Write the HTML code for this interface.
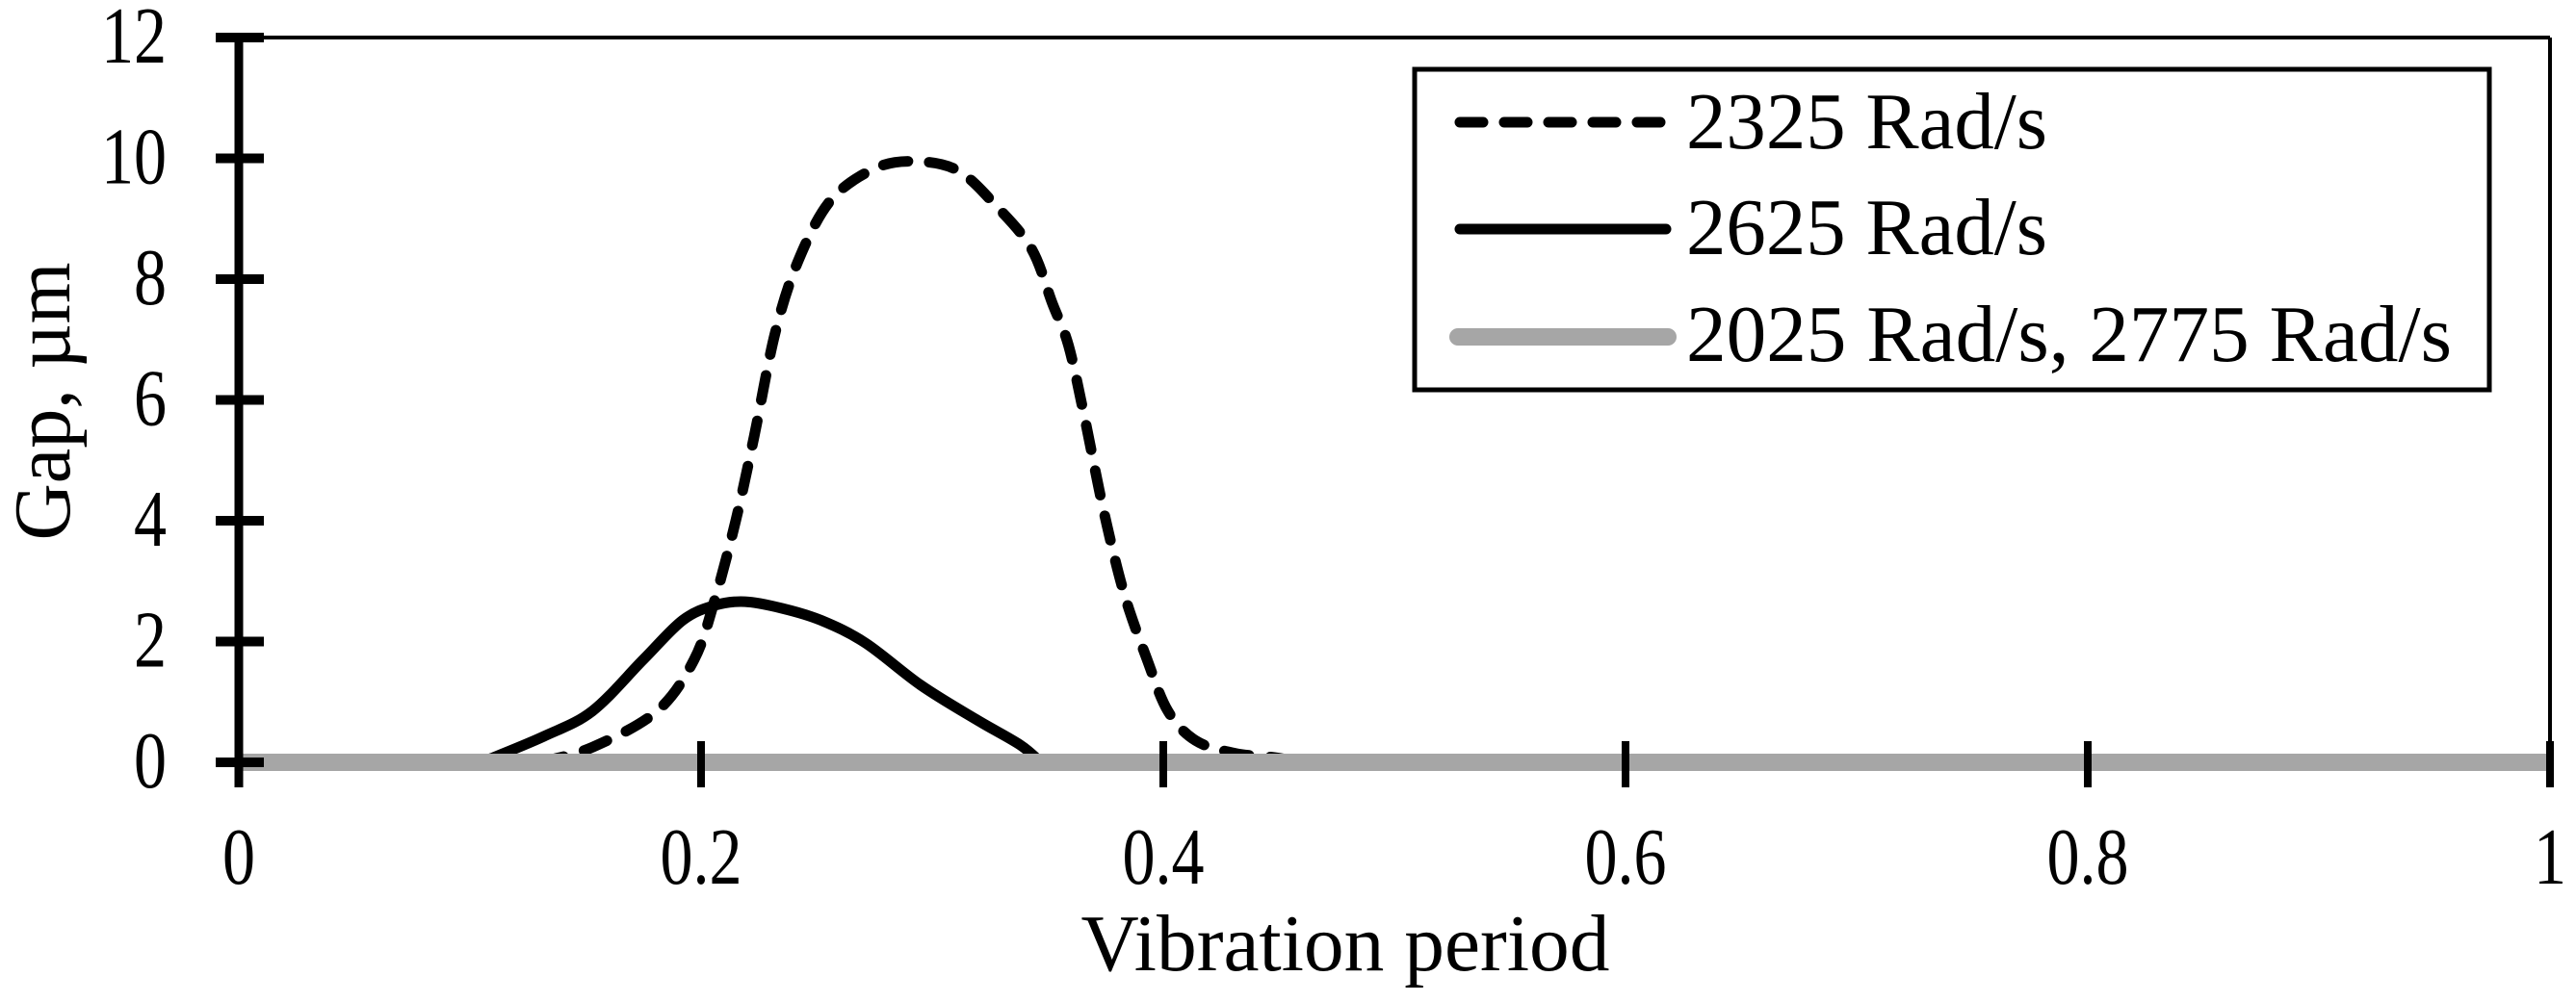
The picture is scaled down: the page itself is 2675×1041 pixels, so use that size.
<!DOCTYPE html>
<html><head><meta charset="utf-8"><style>
html,body{margin:0;padding:0;background:#fff;}
svg{display:block;}
text{font-family:"Liberation Serif",serif;fill:#000;}
</style></head><body>
<svg id="chart" width="2675" height="1041" viewBox="0 0 2675 1041" xmlns="http://www.w3.org/2000/svg">
<g id="frame"></g>
<g id="series"></g>
<g id="axes"></g>
<g id="legend">
  <rect x="1469" y="72" width="1116" height="333" fill="#fff" stroke="#000" stroke-width="5"/>
  <line x1="1516" y1="127" x2="1730" y2="127" stroke="#000" stroke-width="11" stroke-linecap="round" stroke-dasharray="24 22"/>
  <text x="1751" y="154" font-size="84" textLength="375" lengthAdjust="spacingAndGlyphs">2325 Rad/s</text>
  <line x1="1516" y1="238" x2="1730" y2="238" stroke="#000" stroke-width="11" stroke-linecap="round"/>
  <text x="1751" y="264" font-size="84" textLength="375" lengthAdjust="spacingAndGlyphs">2625 Rad/s</text>
  <line x1="1514" y1="350" x2="1732" y2="350" stroke="#a6a6a6" stroke-width="18" stroke-linecap="round"/>
  <text x="1751" y="375" font-size="84" textLength="795" lengthAdjust="spacingAndGlyphs">2025 Rad/s, 2775 Rad/s</text>
</g>
</svg>
<script>
const xTicks = [0, 0.2, 0.4, 0.6, 0.8, 1];
const xTickLabels = ["0", "0.2", "0.4", "0.6", "0.8", "1"];
const yTicks = [0, 2, 4, 6, 8, 10, 12];
const yTickLabels = ["0", "2", "4", "6", "8", "10", "12"];
const dashedX = [0.13, 0.153, 0.181, 0.197, 0.206, 0.215, 0.223, 0.232, 0.242, 0.256, 0.275, 0.292, 0.311, 0.328, 0.343, 0.352, 0.359, 0.366, 0.374, 0.383, 0.393, 0.402, 0.414, 0.431, 0.448, 0.46];
const dashedY = [0, 0.25, 0.85, 1.7, 2.7, 4.0, 5.4, 7.1, 8.3, 9.3, 9.83, 9.95, 9.8, 9.2, 8.5, 7.6, 6.9, 5.7, 4.2, 2.8, 1.7, 0.85, 0.36, 0.15, 0.08, 0];
const solidX = [0.105, 0.132, 0.153, 0.175, 0.192, 0.206, 0.219, 0.235, 0.252, 0.271, 0.295, 0.319, 0.338, 0.347];
const solidY = [0, 0.43, 0.85, 1.7, 2.35, 2.6, 2.66, 2.55, 2.35, 1.98, 1.28, 0.71, 0.29, 0];
const flatX = [0, 1];
const flatY = [0, 0];

const X0 = 248, X1 = 2648, Y0 = 792, Y1 = 39;
const sx = v => X0 + (v - 0) / (1 - 0) * (X1 - X0);
const sy = v => Y0 - (v - 0) / (12 - 0) * (Y0 - Y1);
const NS = "http://www.w3.org/2000/svg";
function mk(tag, attrs, parent) {
  const e = document.createElementNS(NS, tag);
  for (const k in attrs) e.setAttribute(k, attrs[k]);
  parent.appendChild(e);
  return e;
}
const frame = document.getElementById('frame');
const series = document.getElementById('series');
const axes = document.getElementById('axes');

let t = mk('line', {x1: X0, y1: sy(12), x2: sx(1), y2: sy(12), stroke: '#000', 'stroke-width': 4}, frame);


let r = mk('line', {x1: sx(1), y1: sy(12), x2: sx(1), y2: 818, stroke: '#000', 'stroke-width': 4}, frame);



let ya = mk('line', {x1: X0, y1: sy(12) - 5, x2: X0, y2: 818, stroke: '#000', 'stroke-width': 9}, axes);


yTicks.forEach((v, i) => {
  const y = sy(v);
  const tk = mk('line', {x1: 224, y1: y, x2: 274, y2: y, stroke: '#000', 'stroke-width': 10}, axes);
  
  
  const lb = mk('text', {x: 0, y: 0, 'font-size': 84, 'text-anchor': 'end', transform: 'translate(173,' + (y + 26) + ') scale(0.81,1)'}, axes);
  lb.textContent = yTickLabels[i];
  
  
});

function smoothPath(xs, ys) {
  const P = xs.map((x, i) => [sx(x), sy(ys[i])]);
  let d = 'M' + P[0][0].toFixed(1) + ',' + P[0][1].toFixed(1);
  for (let i = 0; i < P.length - 1; i++) {
    const p0 = P[Math.max(0, i - 1)], p1 = P[i], p2 = P[i + 1], p3 = P[Math.min(P.length - 1, i + 2)];
    const c1 = [p1[0] + (p2[0] - p0[0]) / 6, p1[1] + (p2[1] - p0[1]) / 6];
    const c2 = [p2[0] - (p3[0] - p1[0]) / 6, p2[1] - (p3[1] - p1[1]) / 6];
    d += ' C' + c1.map(n => n.toFixed(1)).join(',') + ' ' + c2.map(n => n.toFixed(1)).join(',') + ' ' + p2[0].toFixed(1) + ',' + p2[1].toFixed(1);
  }
  return d;
}
function curve(xs, ys, attrs, name) {
  const p = mk('path', Object.assign({d: smoothPath(xs, ys), fill: 'none'}, attrs), series);
  
  
}
curve(dashedX, dashedY, {stroke: '#000', 'stroke-width': 11, 'stroke-linecap': 'round', 'stroke-linejoin': 'round', 'stroke-dasharray': '26 22'}, 'series-2325');
curve(solidX, solidY, {stroke: '#000', 'stroke-width': 11, 'stroke-linejoin': 'round'}, 'series-2625');
curve(flatX, flatY, {stroke: '#a6a6a6', 'stroke-width': 18}, 'series-2025-2775');

xTicks.forEach((v, i) => {
  const x = sx(v);
  if (v > 0) {
    const tk = mk('line', {x1: x, y1: 770, x2: x, y2: 818, stroke: '#000', 'stroke-width': 8}, axes);
    
    
  }
  const lb = mk('text', {x: 0, y: 0, 'font-size': 84, 'text-anchor': 'middle', transform: 'translate(' + x + ',918) scale(0.81,1)'}, axes);
  lb.textContent = xTickLabels[i];
  
  
});

const xt = mk('text', {x: 1397, y: 1008, 'font-size': 84, 'text-anchor': 'middle', textLength: 549, lengthAdjust: 'spacingAndGlyphs'}, axes);
xt.textContent = 'Vibration period';


const yt = mk('text', {x: 0, y: 0, 'font-size': 84, 'text-anchor': 'middle', transform: 'translate(72,417) rotate(-90)', textLength: 289, lengthAdjust: 'spacingAndGlyphs'}, axes);
yt.textContent = 'Gap, µm';


</script>
</body></html>
